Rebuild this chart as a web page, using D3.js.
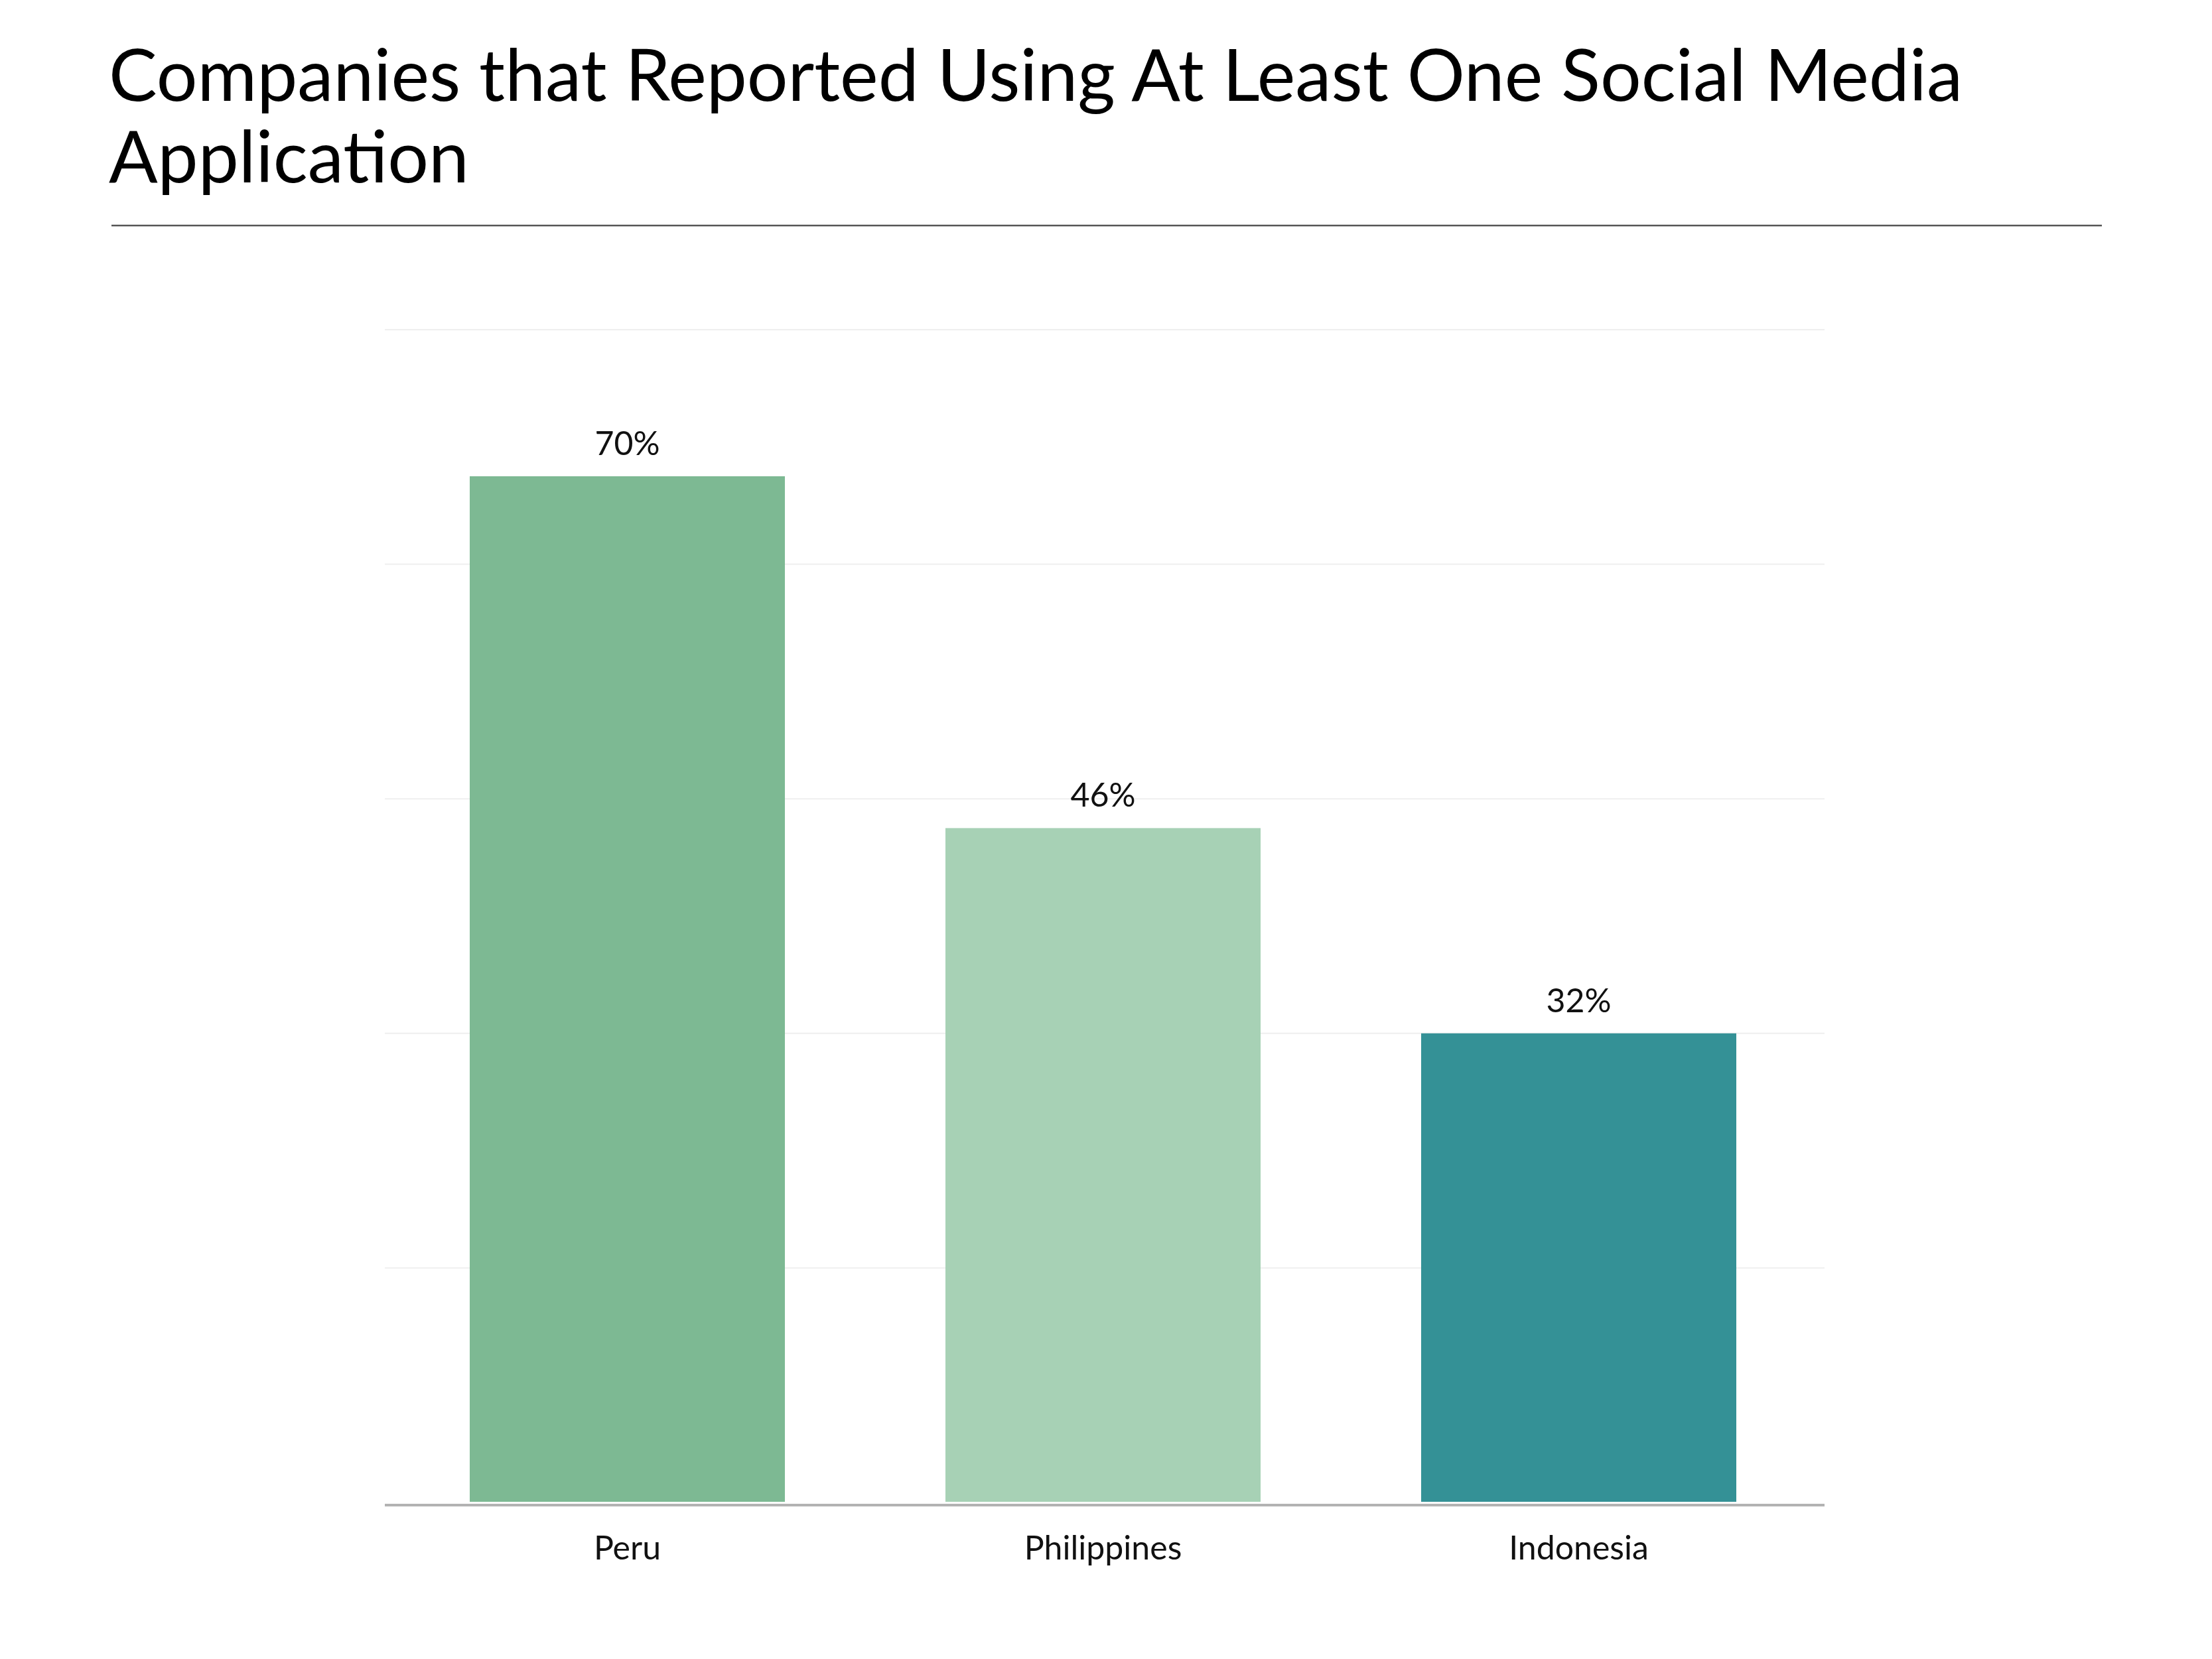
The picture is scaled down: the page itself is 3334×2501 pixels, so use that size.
<!DOCTYPE html>
<html>
<head>
<meta charset="utf-8">
<script src="https://cdn.jsdelivr.net/npm/d3@7"></script>
<style>
  body { margin: 0; background: #fff; }
  text { font-family: Lato, "Open Sans", sans-serif; }
</style>
</head>
<body>
<script>
// chart data
const countries = ['Peru', 'Philippines', 'Indonesia']
const shares = [70, 46, 32]
const barColors = ['#7db993', '#a7d1b5', '#349196']
const gridTicks = [0, 16, 32, 48, 64, 80]
const titleLines = ['Companies that Reported Using At Least One Social Media', 'Application']

const W = 3334, H = 2501

const svg = d3.select('body').append('svg')
    .attr('width', W)
    .attr('height', H)

// title
svg.append('text')
    .attr('x', 164)
    .attr('y', 152)
    .attr('font-size', '109px')
    .attr('fill', '#000')
  .selectAll('tspan')
    .data(titleLines)
    .enter()
    .append('tspan')
      .attr('x', 164)
      .attr('dy', (d, i) => i === 0 ? 0 : 123)
      .text(d => d)

// rule under title
svg.append('line')
    .attr('x1', 168).attr('x2', 3168)
    .attr('y1', 340).attr('y2', 340)
    .attr('stroke', '#555')
    .attr('stroke-width', 2.5)

// scales
const x = d3.scaleBand()
    .domain(countries)
    .range([587, 2738])
    .paddingInner(0.3375)
    .paddingOuter(0.16875)

const y = d3.scaleLinear()
    .domain([0, 80])
    .range([2265, 497])

const g = svg.append('g')

// gridlines
g.selectAll('.grid')
    .data(gridTicks.slice(1))
    .enter()
    .append('line')
      .attr('x1', 580).attr('x2', 2750)
      .attr('y1', d => y(d)).attr('y2', d => y(d))
      .attr('stroke', '#efefef')
      .attr('stroke-width', 2)

const rows = countries.map((c, i) => ({ country: c, value: shares[i], color: barColors[i] }))

// bars
g.selectAll('.bar')
    .data(rows)
    .enter()
    .append('rect')
      .attr('x', d => x(d.country))
      .attr('y', d => y(d.value))
      .attr('width', x.bandwidth())
      .attr('height', d => y(0) - y(d.value) - 1)
      .attr('fill', d => d.color)

// value labels
g.selectAll('.val')
    .data(rows)
    .enter()
    .append('text')
      .attr('x', d => x(d.country) + x.bandwidth() / 2)
      .attr('y', d => y(d.value) - 32)
      .attr('text-anchor', 'middle')
      .attr('font-size', '50px')
      .attr('fill', '#111')
      .text(d => d.value + '%')

// x axis, drawn across the full grid width
const xAxis = g.append('g')
    .attr('transform', 'translate(0,2269)')
    .call(d3.axisBottom(x).tickSize(0).tickPadding(46).tickSizeOuter(0))
xAxis.select('.domain').remove()
xAxis.append('line')
    .attr('x1', 580).attr('x2', 2750)
    .attr('stroke', '#b3b3b3')
    .attr('stroke-width', 4)
xAxis.selectAll('text')
    .attr('font-size', '50px')
    .attr('fill', '#111')
    .attr('font-family', 'Lato, sans-serif')
</script>
</body>
</html>
